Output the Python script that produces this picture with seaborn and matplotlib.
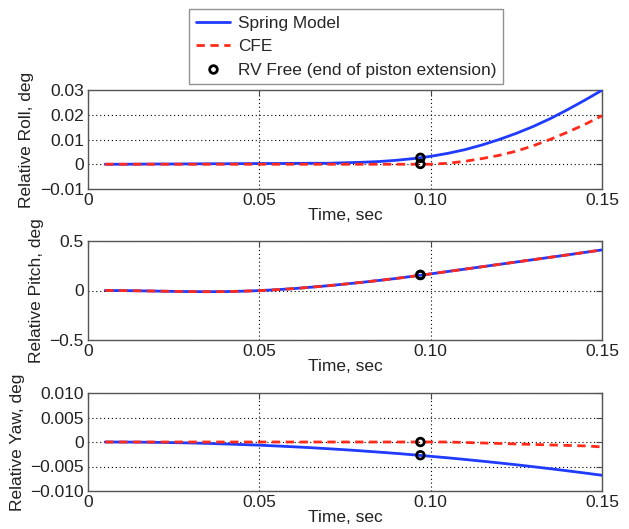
import numpy as np
import pandas as pd
import matplotlib
matplotlib.use("Agg")
import matplotlib.pyplot as plt
import seaborn as sns
from matplotlib.lines import Line2D

# ---- data ----
time = [0.005, 0.010, 0.015, 0.020, 0.025, 0.030, 0.035, 0.040, 0.045, 0.050,
        0.055, 0.060, 0.065, 0.070, 0.075, 0.080, 0.085, 0.090, 0.095, 0.100,
        0.105, 0.110, 0.115, 0.120, 0.125, 0.130, 0.135, 0.140, 0.145, 0.150]

roll_spring = [0.0, 0.0, 0.00005, 0.0001, 0.0001, 0.00015, 0.0002, 0.0002, 0.00025, 0.0003,
               0.0003, 0.00035, 0.0004, 0.0004, 0.0006, 0.0008, 0.0011, 0.0016, 0.0023, 0.0032,
               0.0044, 0.0059, 0.0078, 0.0100, 0.0125, 0.0153, 0.0185, 0.0221, 0.0259, 0.0299]
roll_cfe = [0.0, 0.0, 0.0, 0.0, 0.0, 0.0, 0.0, 0.0, 0.0, 0.0,
            0.0, 0.0, 0.0, 0.0, 0.0, 0.0, 0.0, 0.0, 0.0, 0.0,
            0.0004, 0.0012, 0.0023, 0.0036, 0.0053, 0.0075, 0.0101, 0.0130, 0.0161, 0.0196]

pitch_spring = [0.0, -0.001, -0.003, -0.006, -0.009, -0.011, -0.012, -0.011, -0.007, -0.001,
                0.008, 0.019, 0.033, 0.048, 0.065, 0.083, 0.102, 0.122, 0.145, 0.168,
                0.192, 0.216, 0.240, 0.264, 0.288, 0.312, 0.336, 0.360, 0.385, 0.410]
pitch_cfe = [0.0, -0.001, -0.003, -0.006, -0.009, -0.011, -0.012, -0.011, -0.007, -0.001,
             0.008, 0.019, 0.033, 0.048, 0.065, 0.083, 0.102, 0.122, 0.145, 0.168,
             0.192, 0.216, 0.240, 0.264, 0.288, 0.312, 0.336, 0.360, 0.385, 0.410]

yaw_spring = [0.0, -0.00001, -0.00003, -0.00007, -0.00013, -0.0002, -0.00029, -0.0004, -0.00052, -0.00065,
              -0.00081, -0.00098, -0.00116, -0.00137, -0.00158, -0.00182, -0.00207, -0.00233, -0.00262, -0.00292,
              -0.00323, -0.00356, -0.00391, -0.00427, -0.00465, -0.00505, -0.00546, -0.00589, -0.00633, -0.00679]
yaw_cfe = [0.0, 0.0, 0.0, 0.0, 0.0, 0.0, 0.0, 0.0, 0.0, 0.0,
           0.0, 0.0, 0.0, 0.0, 0.0, 0.0, 0.0, 0.0, 0.0, 0.0,
           0.0, -0.0001, -0.0002, -0.0003, -0.0004, -0.0005, -0.0006, -0.0007, -0.0008, -0.0010]

free_time = [0.097, 0.097]
roll_free = [0.0026, 0.0001]
pitch_free = [0.158, 0.156]
yaw_free = [0.0, -0.0027]

xticks = [0, 0.05, 0.10, 0.15]
xticklabels = ["0", "0.05", "0.10", "0.15"]
roll_ticks = [-0.01, 0, 0.01, 0.02, 0.03]
roll_labels = ["\u22120.01", "0", "0.01", "0.02", "0.03"]
pitch_ticks = [-0.5, 0, 0.5]
pitch_labels = ["\u22120.5", "0", "0.5"]
yaw_ticks = [-0.010, -0.005, 0, 0.005, 0.010]
yaw_labels = ["\u22120.010", "\u22120.005", "0", "0.005", "0.010"]

sns.set_style("white")
plt.rcParams["font.family"] = ["Liberation Sans", "DejaVu Sans"]
FS = 12.5

BLUE = "#1f3bff"
RED = "#ff2a1a"
DASH = (0, (3.0, 2.0))

fig = plt.figure(figsize=(6.29, 5.29), dpi=100)
L, W = 88 / 629, (602 - 88) / 629
rects = [(L, 1 - 189 / 529, W, 99 / 529),
         (L, 1 - 340 / 529, W, 99 / 529),
         (L, 1 - 491 / 529, W, 98 / 529)]

panels = [
    (roll_spring, roll_cfe, roll_free, (-0.01, 0.03), roll_ticks, roll_labels, "Relative Roll, deg"),
    (pitch_spring, pitch_cfe, pitch_free, (-0.5, 0.5), pitch_ticks, pitch_labels, "Relative Pitch, deg"),
    (yaw_spring, yaw_cfe, yaw_free, (-0.010, 0.010), yaw_ticks, yaw_labels, "Relative Yaw, deg"),
]

for rect, (sp, cf, fr, ylim, yt, ytl, ylab) in zip(rects, panels):
    ax = fig.add_axes(rect)
    df = pd.DataFrame({"t": time, "Spring Model": sp, "CFE": cf})
    sns.lineplot(data=df, x="t", y="Spring Model", ax=ax, color=BLUE, lw=2.0, zorder=3)
    sns.lineplot(data=df, x="t", y="CFE", ax=ax, color=RED, lw=2.0, zorder=4, linestyle=DASH)
    dfp = pd.DataFrame({"t": free_time, "v": fr})
    sns.scatterplot(data=dfp, x="t", y="v", ax=ax, s=30, facecolor="none",
                    edgecolor="black", linewidth=2.0, zorder=5)
    ax.set_xlim(0, 0.15)
    ax.set_ylim(*ylim)
    ax.set_xticks(xticks)
    ax.set_xticklabels(xticklabels)
    ax.set_yticks(yt)
    ax.set_yticklabels(ytl)
    ax.grid(True, color="black", linestyle=(0, (1, 2.5)), linewidth=0.8)
    ax.tick_params(direction="in", length=4, color="#444444", labelsize=FS,
                   top=True, right=True, pad=3, labelcolor="#222222")
    for s in ax.spines.values():
        s.set_color("#555555")
        s.set_linewidth(1.0)
    ax.set_xlabel("Time, sec", fontsize=FS, labelpad=0, color="#222222")
    ax.set_ylabel(ylab, fontsize=FS, labelpad=4, color="#222222")

handles = [
    Line2D([], [], color=BLUE, lw=2.0),
    Line2D([], [], color=RED, lw=2.0, linestyle=DASH),
    Line2D([], [], color="black", marker="o", markersize=5.5, markerfacecolor="none",
           markeredgewidth=2.0, linestyle="none"),
]
leg = fig.legend(handles, ["Spring Model", "CFE", "RV Free (end of piston extension)"],
                 loc="upper center", bbox_to_anchor=(346 / 629, 1 - 9 / 529),
                 frameon=True, fancybox=False, fontsize=12.4, handlelength=2.0,
                 handletextpad=0.45, labelspacing=0.5, borderpad=0.38, borderaxespad=0)
leg.get_frame().set_edgecolor("#777777")
leg.get_frame().set_linewidth(1.0)

fig.savefig("out.png", dpi=100)
